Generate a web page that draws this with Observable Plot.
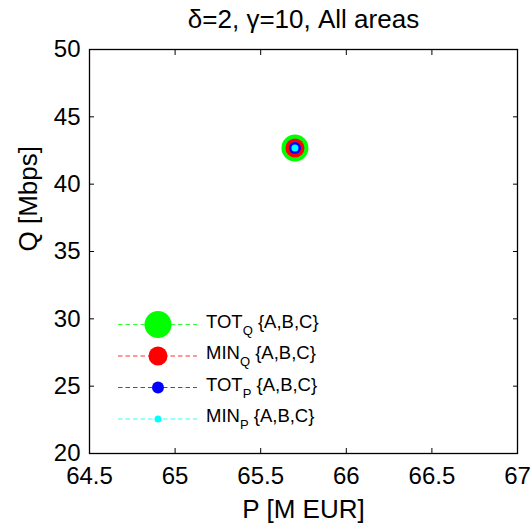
<!DOCTYPE html>
<html>
<head>
<meta charset="utf-8">
<script src="https://cdn.jsdelivr.net/npm/d3@7"></script>
<script src="https://cdn.jsdelivr.net/npm/@observablehq/plot@0.6"></script>
<style>
  body { margin: 0; background: #fff; }
  #chart { position: relative; width: 532px; height: 527px; font-family: "Liberation Sans", Arial, Helvetica, sans-serif; }
  #chart svg { position: absolute; left: 0; top: 0; }
</style>
</head>
<body>
<div id="chart"></div>
<script>
// Series shown in the chart (name, subscript, area set)
const seriesNames = ["TOT", "MIN", "TOT", "MIN"];
const seriesSubs = ["Q", "Q", "P", "P"];
const seriesAreas = ["{A,B,C}", "{A,B,C}", "{A,B,C}", "{A,B,C}"];
// Cost P [M EUR] and throughput Q [Mbps] for each series
const costP = [65.7, 65.7, 65.7, 65.7];
const rateQ = [42.68, 42.68, 42.68, 42.68];
// Axis ticks
const xTicks = [64.5, 65, 65.5, 66, 66.5, 67];
const yTicks = [20, 25, 30, 35, 40, 45, 50];
const titleText = "δ=2, γ=10, All areas";

// Marker styling per series
const colors = ["#00ff00", "#ff0000", "#0000ff", "#00ffff"];
const lineColors = ["#33ff33", "#ff3333", "#4040ff", "#33ffff"];
const radii = [13.5, 9.5, 6, 3.5];

const rows = seriesNames.map((n, i) => ({name: n, sub: seriesSubs[i], areas: seriesAreas[i], P: costP[i], Q: rateQ[i]}));

const font = "Liberation Sans, Arial, Helvetica, sans-serif";

const plot = Plot.plot({
  width: 532,
  height: 527,
  marginLeft: 89,
  marginRight: 15,
  marginTop: 49,
  marginBottom: 74,
  style: {fontFamily: font, background: "white", color: "black"},
  x: {domain: [64.5, 67], ticks: xTicks},
  y: {domain: [20, 50], ticks: yTicks},
  marks: [
    // inward ticks on all four sides
    Plot.axisX(xTicks, {anchor: "bottom", tickSize: -5, tickFormat: () => "", label: null}),
    Plot.axisX(xTicks, {anchor: "top", tickSize: -5, tickFormat: () => "", label: null}),
    Plot.axisY(yTicks, {anchor: "left", tickSize: -5, tickFormat: () => "", label: null}),
    Plot.axisY(yTicks, {anchor: "right", tickSize: -5, tickFormat: () => "", label: null}),
    // tick labels
    Plot.axisX(xTicks, {anchor: "bottom", tickSize: 0, tickPadding: 13, fontSize: 24, label: null, tickFormat: d => String(d)}),
    Plot.axisY(yTicks, {anchor: "left", tickSize: 0, tickPadding: 9, fontSize: 24, label: null, tickFormat: d => String(d)}),
    Plot.frame({stroke: "black", strokeWidth: 1.3}),
    // axis titles and chart title
    Plot.text([titleText], {text: d => d, frameAnchor: "top", lineAnchor: "bottom", dy: -22, fontSize: 26}),
    Plot.text(["P [M EUR]"], {text: d => d, frameAnchor: "bottom", lineAnchor: "bottom", dy: 64, fontSize: 26}),
    Plot.text(["Q [Mbps]"], {text: d => d, frameAnchor: "left", lineAnchor: "bottom", rotate: -90, dx: -53, fontSize: 26}),
    // one dot per series, largest first so all remain visible
    ...rows.map((r, i) => Plot.dot([r], {x: "P", y: "Q", r: radii[i], fill: colors[i], stroke: "none"}))
  ]
});

const chart = document.getElementById("chart");
chart.appendChild(plot);

// Legend drawn inside the lower-left of the plot area
const legend = d3.select(chart).append("svg")
  .attr("width", 532).attr("height", 527)
  .style("pointer-events", "none")
  .style("font-family", font);

const lx0 = 118, lx1 = 197, mx = 158, tx = 206, ly0 = 324.5, lstep = 31.5;
rows.forEach((r, i) => {
  const y = ly0 + i * lstep;
  const g = legend.append("g");
  g.append("line")
    .attr("x1", lx0).attr("x2", lx1).attr("y1", y).attr("y2", y)
    .attr("stroke", lineColors[i]).attr("stroke-width", 1.2).attr("stroke-dasharray", "4.5,3");
  g.append("circle").attr("cx", mx).attr("cy", y).attr("r", radii[i]).attr("fill", colors[i]);
  const t = g.append("text").attr("x", tx).attr("y", y + 3).attr("font-size", 18.5).attr("fill", "black");
  t.append("tspan").text(r.name);
  t.append("tspan").attr("font-size", 13).attr("dy", 7).text(r.sub);
  t.append("tspan").attr("dy", -7).text(" " + r.areas);
});
</script>
</body>
</html>
